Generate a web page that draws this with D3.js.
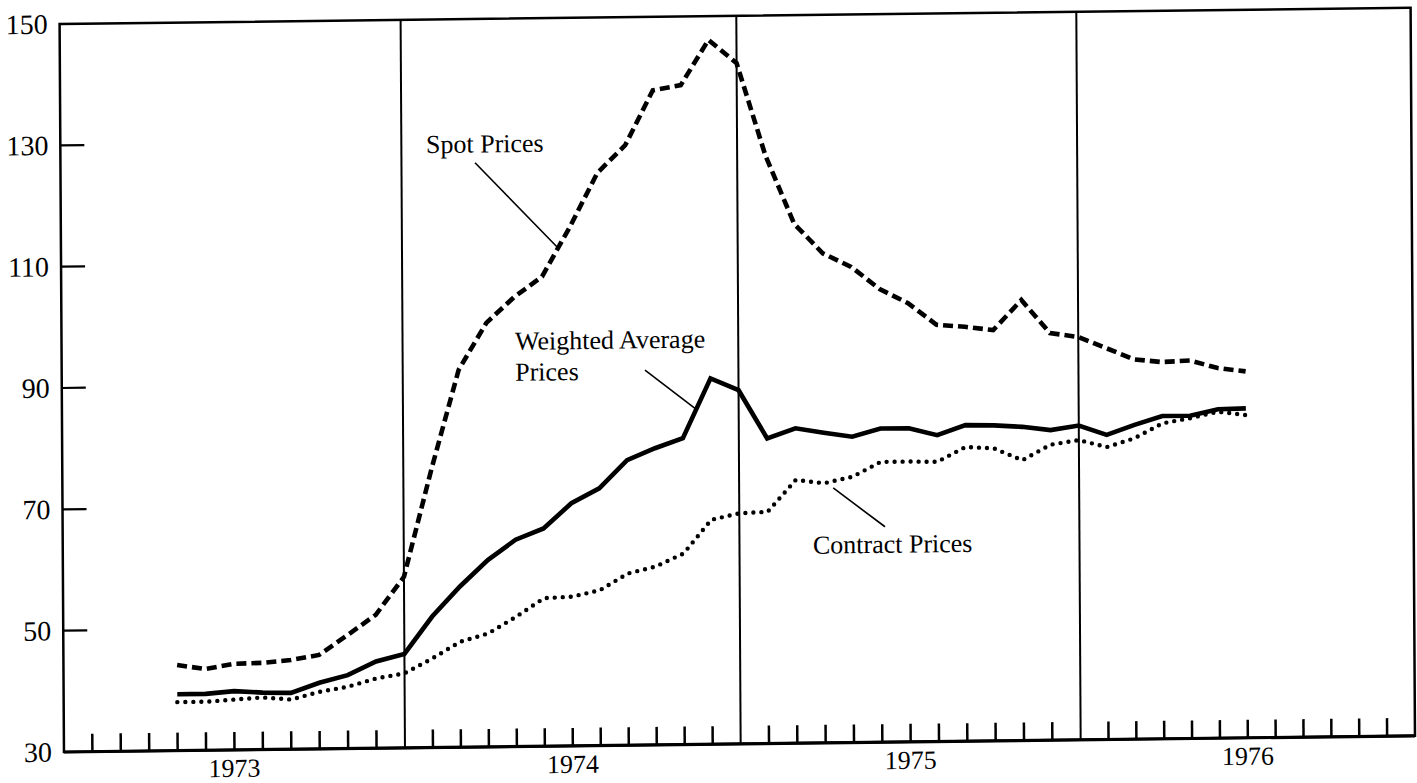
<!DOCTYPE html>
<html>
<head>
<meta charset="utf-8">
<script src="https://cdn.jsdelivr.net/npm/d3@7"></script>
<style>
  body { margin: 0; background: #fff; }
</style>
</head>
<body>
<script>
// monthly observations, May 1973 - Jul 1976
var months = ["1973-05","1973-06","1973-07","1973-08","1973-09","1973-10","1973-11","1973-12",
  "1974-01","1974-02","1974-03","1974-04","1974-05","1974-06","1974-07","1974-08","1974-09","1974-10","1974-11","1974-12",
  "1975-01","1975-02","1975-03","1975-04","1975-05","1975-06","1975-07","1975-08","1975-09","1975-10","1975-11","1975-12",
  "1976-01","1976-02","1976-03","1976-04","1976-05","1976-06","1976-07"];

var spotPrices = [44.1,43.4,44.2,44.3,44.7,45.5,48.7,52.0,
  58.2,75.8,92.2,99.9,104.1,107.4,115.5,124.4,128.9,137.9,138.7,146.1,
  142.2,126.9,115.6,110.7,108.4,104.7,102.3,98.7,98.3,97.7,102.6,97.1,
  96.4,94.5,92.6,92.1,92.3,91.0,90.4];

var weightedPrices = [39.3,39.3,39.7,39.4,39.3,40.9,42.1,44.3,
  45.5,51.6,56.5,60.8,64.1,65.9,70.0,72.4,77.0,78.9,80.5,90.3,
  88.3,80.3,81.9,81.1,80.4,81.7,81.7,80.5,82.1,82.0,81.7,81.1,
  81.8,80.2,81.8,83.2,83.2,84.2,84.3];

var contractPrices = [38.0,38.0,38.3,38.6,38.2,39.4,40.2,41.5,
  42.3,44.7,47.4,48.7,51.4,54.4,54.6,55.6,58.3,59.4,61.5,67.0,
  68.0,68.2,73.4,72.8,73.8,76.2,76.2,76.1,78.5,78.2,76.2,78.7,
  79.4,78.2,79.6,82.0,82.8,83.8,83.2];

var years = ["1973", "1974", "1975", "1976"];
var yTicks = [30, 50, 70, 90, 110, 130, 150];

// label text, anchor and leader line in (month index, value)
var notes = [
  {lines: ["Spot Prices"], m: 12.88, v: 128.0, from: [14.63, 126.3], to: [17.58, 112.1]},
  {lines: ["Weighted Average", "Prices"], m: 16.02, v: 95.4, from: [20.66, 91.8], to: [22.44, 85.4]},
  {lines: ["Contract Prices"], m: 26.59, v: 61.2, from: [27.32, 72.0], to: [29.14, 65.5]}
];

var W = 1351, H = 728;
var FONT = "'Liberation Serif', 'Times New Roman', serif";

function monthIndex(s) {
  var p = s.split("-");
  return (+p[0] - 1973) * 12 + (+p[1] - 1);
}

var x = d3.scaleLinear().domain([0, 12, 24, 36, 48]).range([0, 341, 676.7, 1016.7, W]);
var y = d3.scaleLinear().domain([30, 150]).range([H, 0]);

var svg = d3.select("body").append("svg")
  .attr("width", 1417)
  .attr("height", 783)
  .attr("font-family", FONT);

// the scanned page sits slightly askew
var g = svg.append("g")
  .attr("transform", "matrix(1,-0.012,0.006,1,59.6,24)");

// frame
g.append("rect")
  .attr("width", W).attr("height", H)
  .attr("fill", "none").attr("stroke", "#000").attr("stroke-width", 2.5);
g.append("line")
  .attr("x1", 0).attr("x2", W).attr("y1", H).attr("y2", H)
  .attr("stroke", "#000").attr("stroke-width", 3.2);

// year dividers
g.selectAll(".divider")
  .data([12, 24, 36])
  .enter().append("line")
  .attr("x1", function(d) { return x(d); })
  .attr("x2", function(d) { return x(d); })
  .attr("y1", 0).attr("y2", H)
  .attr("stroke", "#000").attr("stroke-width", 2);

// month ticks
var monthTicks = d3.range(1, 48).filter(function(d) { return d % 12 != 0; });
g.selectAll(".mtick")
  .data(monthTicks)
  .enter().append("line")
  .attr("x1", function(d) { return x(d); })
  .attr("x2", function(d) { return x(d); })
  .attr("y1", H).attr("y2", H - 18)
  .attr("stroke", "#000").attr("stroke-width", 2.5);

// year labels
g.selectAll(".year")
  .data(years)
  .enter().append("text")
  .attr("x", function(d, i) { return x(i * 12 + 6); })
  .attr("y", H + 27)
  .attr("text-anchor", "middle")
  .attr("font-size", 26)
  .text(function(d) { return d; });

// value ticks and labels
g.selectAll(".ytick")
  .data(yTicks.slice(1, -1))
  .enter().append("line")
  .attr("x1", 0).attr("x2", 24)
  .attr("y1", function(d) { return y(d); })
  .attr("y2", function(d) { return y(d); })
  .attr("stroke", "#000").attr("stroke-width", 2.2);

g.selectAll(".ylab")
  .data(yTicks)
  .enter().append("text")
  .attr("x", -12)
  .attr("y", function(d) { return y(d); })
  .attr("dy", "0.34em")
  .attr("text-anchor", "end")
  .attr("font-size", 28)
  .text(function(d) { return d; });

// series
function series(values) {
  return months.map(function(m, i) { return {m: monthIndex(m), v: values[i]}; });
}
var line = d3.line()
  .x(function(d) { return x(d.m); })
  .y(function(d) { return y(d.v); });

g.append("path")
  .datum(series(spotPrices))
  .attr("d", line)
  .attr("fill", "none").attr("stroke", "#000")
  .attr("stroke-width", 4.6)
  .attr("stroke-dasharray", "10,5");

g.append("path")
  .datum(series(weightedPrices))
  .attr("d", line)
  .attr("fill", "none").attr("stroke", "#000")
  .attr("stroke-width", 4.6)
  .attr("stroke-linejoin", "miter");

g.append("path")
  .datum(series(contractPrices))
  .attr("d", line)
  .attr("fill", "none").attr("stroke", "#000")
  .attr("stroke-width", 4.4)
  .attr("stroke-linecap", "round")
  .attr("stroke-dasharray", "0,8");

// annotations
notes.forEach(function(n) {
  var t = g.append("text")
    .attr("x", x(n.m))
    .attr("y", y(n.v))
    .attr("font-size", 26);
  n.lines.forEach(function(s, i) {
    t.append("tspan")
      .attr("x", x(n.m))
      .attr("dy", i == 0 ? 0 : 31)
      .text(s);
  });
  g.append("line")
    .attr("x1", x(n.from[0])).attr("y1", y(n.from[1]))
    .attr("x2", x(n.to[0])).attr("y2", y(n.to[1]))
    .attr("stroke", "#000").attr("stroke-width", 1.6);
});
</script>
</body>
</html>
